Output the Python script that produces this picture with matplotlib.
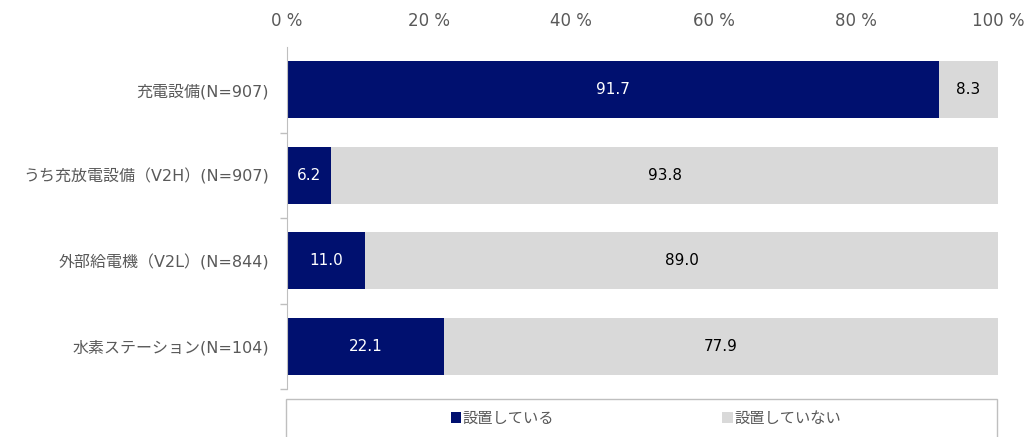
import matplotlib.pyplot as plt
from matplotlib.patches import Rectangle

plt.rcParams['font.family'] = ['DejaVu Sans', 'Noto Sans CJK JP']

categories = ['充電設備(N=907)', 'うち充放電設備（V2H）(N=907)', '外部給電機（V2L）(N=844)', '水素ステーション(N=104)']
installed = [91.7, 6.2, 11.0, 22.1]
not_installed = [8.3, 93.8, 89.0, 77.9]
series_names = ['設置している', '設置していない']
xticks = [0, 20, 40, 60, 80, 100]

navy = '#00106F'
light = '#D9D9D9'
gray_text = '#595959'

fig = plt.figure(figsize=(10.27, 4.37), dpi=100)
ax = fig.add_axes([287 / 1027, 1 - 389 / 437, 711 / 1027, 342 / 437])

y = range(len(categories))
b1 = ax.barh(y, installed, height=0.67, color=navy, label=series_names[0])
b2 = ax.barh(y, not_installed, left=installed, height=0.67, color=light, label=series_names[1])

for i in y:
    ax.text(installed[i] / 2, i, f'{installed[i]:.1f}', ha='center', va='center',
            color='white', fontsize=11)
    ax.text(installed[i] + not_installed[i] / 2, i, f'{not_installed[i]:.1f}', ha='center',
            va='center', color='black', fontsize=11)

ax.set_xlim(0, 100)
ax.set_ylim(3.5, -0.5)
ax.xaxis.tick_top()
ax.set_xticks(xticks)
ax.set_xticklabels([f'{v} %' for v in xticks], color=gray_text, fontsize=12)
ax.tick_params(axis='x', length=0, pad=12)

ax.set_yticks(list(y))
ax.set_yticklabels(categories, color=gray_text, fontsize=11.5)
ax.set_yticks([0.5, 1.5, 2.5, 3.5], minor=True)
ax.tick_params(axis='y', which='major', length=0, pad=13)
ax.tick_params(axis='y', which='minor', length=5, color='#BFBFBF', width=1)

for s in ['top', 'right', 'bottom']:
    ax.spines[s].set_visible(False)
ax.spines['left'].set_color('#BFBFBF')

# legend box running off the bottom edge
fig.patches.append(Rectangle((286 / 1027, -0.05), 711 / 1027, 0.05 + (437 - 399) / 437,
                             transform=fig.transFigure, fill=False, edgecolor='#BFBFBF',
                             linewidth=1))
fig.legend(handles=[b1, b2], labels=series_names, loc='center', ncol=2,
           bbox_to_anchor=(646 / 1027, 1 - 418 / 437), frameon=False,
           handlelength=0.7, handleheight=0.7, handletextpad=0.1, columnspacing=11.0,
           prop={'size': 11}, labelcolor=gray_text)

fig.savefig('out.png', dpi=100)
